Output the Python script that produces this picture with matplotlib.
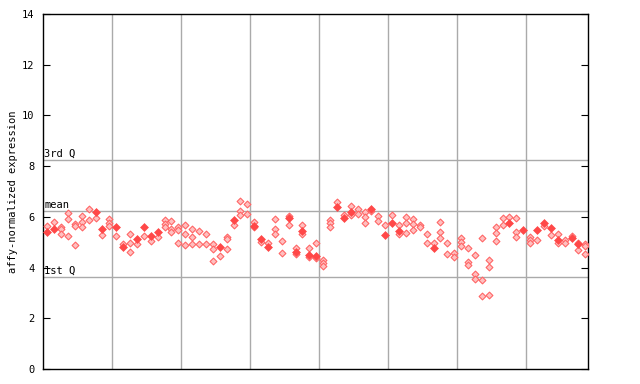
import matplotlib
matplotlib.use("Agg")
import matplotlib.pyplot as plt

# per-sample (column) expression values, hollow markers
hollow_values = [
    [5.64], [5.78], [5.60, 5.52, 5.31], [6.15, 5.90, 5.23], [5.72, 5.64, 4.88],
    [6.03, 5.78, 5.61], [6.31, 5.88], [5.97], [5.27], [5.90, 5.77, 5.63],
    [5.23], [4.94], [5.31, 4.95, 4.61], [4.92], [5.23], [5.03], [5.22],
    [5.86, 5.71, 5.61], [5.84, 5.52, 5.41], [5.60, 5.48, 4.95], [5.68, 5.31, 4.88],
    [5.52, 5.19, 4.92], [5.44, 4.92], [5.31, 4.92], [4.94, 4.72, 4.25], [4.44],
    [5.19, 5.11, 4.73], [5.67], [6.62, 6.23, 6.06], [6.51, 6.10],
    [5.78, 5.61], [5.01], [4.97], [5.90, 5.52, 5.31], [5.03, 4.56], [6.03, 5.67],
    [4.76, 4.52], [5.67, 5.31], [4.76, 4.43], [4.97, 4.38], [4.30, 4.19, 4.06],
    [5.88, 5.76, 5.61], [6.59], [6.07], [6.43, 6.09], [6.31, 6.10], [6.20, 6.01, 5.74],
    [6.25], [6.03, 5.84], [5.67], [6.06], [5.69, 5.31], [5.98, 5.76, 5.35],
    [5.91, 5.73, 5.48], [5.67, 5.59], [5.31, 4.95], [4.95], [5.78, 5.39, 5.15],
    [4.97, 4.52], [4.59, 4.40], [5.15, 5.01, 4.84], [4.76, 4.21, 4.11],
    [4.48, 3.75, 3.55], [5.15, 3.50, 2.89], [4.29, 4.01, 2.90], [5.59, 5.35, 5.03],
    [5.94, 5.67], [5.98], [5.94, 5.39, 5.19], [], [5.19, 5.07, 4.95], [5.07],
    [5.63], [5.27], [5.31, 4.97], [5.07, 4.97], [5.25], [4.97, 4.68], [4.92, 4.84, 4.52],
]
# filled markers (None = no filled marker in that column)
filled_values = [
    5.41, 5.52, None, None, None, None, None, 6.18, 5.53, None,
    5.61, 4.80, None, 5.14, 5.59, 5.26, 5.39, None, None, None,
    None, None, None, None, None, 4.80, None, 5.89, None, None,
    5.65, 5.14, 4.82, None, None, 5.95, 4.63, 5.44, 4.51, 4.47,
    None, None, 6.40, 5.94, 6.19, None, None, 6.32, None, 5.30,
    5.77, 5.43, None, None, None, None, 4.79, None, None, None,
    None, None, None, None, None, None, None, 5.77, None, 5.47,
    None, 5.47, 5.76, 5.57, 5.07, None, 5.15, 4.92, None,
]
quartile_labels = ["3rd Q", "mean", "1st Q"]
quartile_values = [8.24, 6.23, 3.63]
y_ticks = [0, 2, 4, 6, 8, 10, 12, 14]

fig = plt.figure(figsize=(6.4, 3.84), dpi=100)
ax = fig.add_axes([43/640, 15/384, 545/640, 355/384])

hx, hy = [], []
for i, vals in enumerate(hollow_values):
    for v in vals:
        hx.append(i); hy.append(v)
fx = [i for i, v in enumerate(filled_values) if v is not None]
fy = [v for v in filled_values if v is not None]

ax.scatter(hx, hy, marker='D', s=12, facecolor='#ffc0c0', edgecolor='#ff6666',
           linewidth=0.8, zorder=3)
ax.scatter(fx, fy, marker='D', s=16, facecolor='#ff4848', edgecolor='#ff4848',
           linewidth=0.5, zorder=4)

n = len(hollow_values)
ax.set_xlim(-0.62, n - 1 + 0.39)
ax.set_ylim(0, 14)

for k in range(1, 8):
    ax.axvline(-0.62 + 10 * k, color='#aaaaaa', linewidth=1, zorder=1)
for lab, v in zip(quartile_labels, quartile_values):
    ax.axhline(v, color='#aaaaaa', linewidth=1, zorder=1)
    ax.text(0.002, v + 0.05, lab, transform=ax.get_yaxis_transform(),
            ha='left', va='bottom', fontsize=7.5, family='DejaVu Sans Mono')

ax.set_yticks(y_ticks)
ax.set_yticklabels([str(t) for t in y_ticks], fontsize=7.5, family='DejaVu Sans Mono')
ax.tick_params(axis='y', direction='in', length=5, right=True, left=True, pad=6)
ax.set_xticks([])
ax.set_ylabel('affy-normalized expression', fontsize=7.5, family='DejaVu Sans Mono',
              labelpad=3)
for s in ax.spines.values():
    s.set_linewidth(1)

fig.savefig('out.png', dpi=100)
